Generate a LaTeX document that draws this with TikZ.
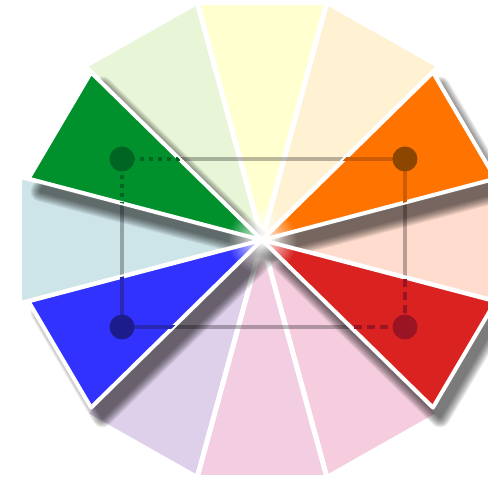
\documentclass[tikz,border=0pt]{standalone}
\usetikzlibrary{fadings}

\definecolor{paleyellow}{RGB}{255,255,208}
\definecolor{paleorange}{RGB}{255,242,210}
\definecolor{peach}{RGB}{255,220,205}
\definecolor{pinkA}{RGB}{245,205,222}
\definecolor{pinkB}{RGB}{243,205,225}
\definecolor{lavender}{RGB}{222,207,235}
\definecolor{paleblue}{RGB}{205,228,232}
\definecolor{palegreen}{RGB}{232,245,215}
\definecolor{wgreen}{RGB}{0,145,45}
\definecolor{worange}{RGB}{255,115,0}
\definecolor{wred}{RGB}{218,35,32}
\definecolor{wblue}{RGB}{50,50,255}
\definecolor{gdark}{RGB}{0,100,35}
\definecolor{odark}{RGB}{140,70,0}
\definecolor{rdark}{RGB}{155,20,35}
\definecolor{bdark}{RGB}{28,28,140}
\definecolor{bmid}{RGB}{40,40,180}
\definecolor{omid}{RGB}{205,92,5}
\tikzfading[name=centrefade, inner color=transparent!0, outer color=transparent!100]

\begin{document}
\begin{tikzpicture}[x=1pt, y=1pt,
		pale/.style={draw=white, line width=5pt, line join=round},
		full/.style={draw=white, line width=4pt, line join=round},
		shade/.style={black, line join=round, shift={(9,-12)}},
		frame/.style={black, opacity=0.28, line width=3.5pt},
		gline/.style={gdark, line width=4pt, dash pattern=on 4pt off 5pt},
		oline/.style={omid, line width=3.5pt},
		rline/.style={rdark, line width=4pt, dash pattern=on 8pt off 5pt},
		bline/.style={bmid, line width=3.5pt},
		dot/.style={circle, minimum size=25pt, inner sep=0pt}]
	\clip (-262,-239) rectangle (226,240);
	\coordinate (G) at (-140,81);
	\coordinate (O) at (143,81);
	\coordinate (R) at (143,-87);
	\coordinate (B) at (-140,-87);
	
	\begin{scope}[xscale=1.02]
		% pale wedges
		\foreach \a/\col in {90/paleyellow, 60/paleorange, 0/peach, -60/pinkA, -90/pinkB, -120/lavender, 180/paleblue, 120/palegreen}
			\draw[pale, fill=\col] (0,0) -- (\a-15:246) -- (\a+15:246) -- cycle;
		
		\draw[frame] (G) -- (O) -- (R) -- (B) -- cycle;
		
		% soft shadows
		\foreach \a in {150,30,-30,210}
			\foreach \w in {2,4,...,20} {
				\begin{scope}[transparency group, opacity=0.07]
					\filldraw[shade, line width=\w pt] (0,0) -- (\a-15:234) -- (\a+15:234) -- cycle;
				\end{scope}
			}
		
		% the four colours of the rectangle
		\foreach \a/\col in {150/wgreen, 30/worange, -30/wred, 210/wblue}
			\draw[full, fill=\col] (0,0) -- (\a-15:237) -- (\a+15:237) -- cycle;
		\fill[white, path fading=centrefade] (0,0) circle (34);
		
		\foreach \a/\sty in {150/gline, 30/oline, -30/rline, 210/bline} {
			\begin{scope}
				\clip (0,0) -- (\a-15:235) -- (\a+15:235) -- cycle;
				\draw[\sty] (G) -- (O) -- (R) -- (B) -- cycle;
			\end{scope}
		}
	\end{scope}
	
	\node[dot, fill=gdark] (gdot) at (G) {};
	\node[dot, fill=odark] (odot) at (O) {};
	\node[dot, fill=rdark] (rdot) at (R) {};
	\node[dot, fill=bdark] (bdot) at (B) {};
\end{tikzpicture}
\end{document}
